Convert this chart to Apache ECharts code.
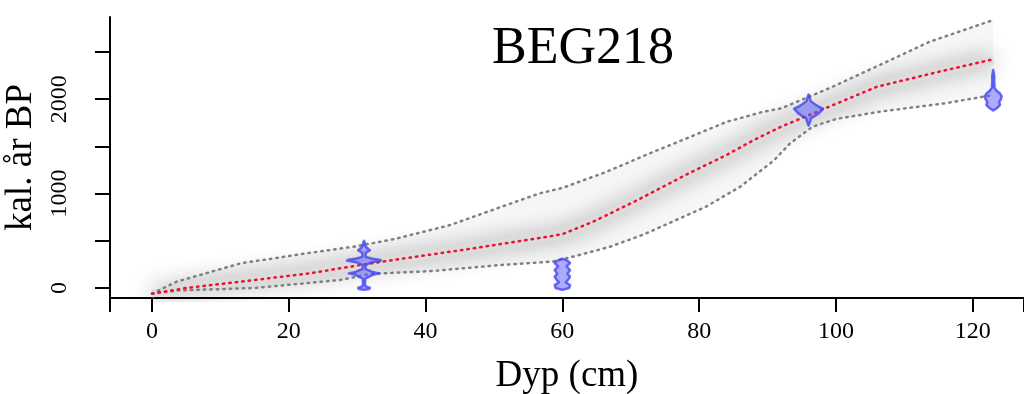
<!DOCTYPE html>
<html>
<head>
<meta charset="utf-8">
<script src="https://cdn.jsdelivr.net/npm/echarts@6/dist/echarts.min.js"></script>
<style>
  html, body { margin: 0; padding: 0; background: #fff; }
  #chart { width: 1024px; height: 394px; }
</style>
</head>
<body>
<div id="chart"></div>
<script>
// axis ticks and extents
const xTicks = [0, 20, 40, 60, 80, 100, 120];
const yTicks = [0, 500, 1000, 1500, 2000, 2500];
const yLabels = [0, 1000, 2000];
const xMin = -6.14, xMax = 127.5;
const yMin = -106, yMax = 2871;

// age-depth model: mean (red) and 95% range (grey dotted)
const meanDepth = [0, 5, 13, 23, 31, 36, 47, 57, 60, 64.5, 71, 78, 84, 88, 92, 97, 106, 115, 123];
const meanAge = [-60, 0, 67, 155, 250, 304, 420, 533, 570, 702, 932, 1197, 1409, 1568, 1709, 1860, 2132, 2290, 2423];
const upperDepth = [0, 3.6, 13, 22.6, 29.4, 35.3, 43.6, 51, 56.7, 60, 66.5, 72.8, 77.6, 84, 89, 92, 99, 106.4, 113.7, 123];
const upperAge = [-60, 67, 262, 367, 437, 516, 667, 858, 1003, 1060, 1232, 1427, 1568, 1760, 1860, 1903, 2115, 2362, 2609, 2839];
const lowerDepth = [0, 4, 15, 27.5, 32, 41, 51, 58.6, 62, 67, 72, 81, 86, 91, 93.3, 96.6, 100, 106.4, 116, 123];
const lowerAge = [-60, -25, 0, 85, 150, 180, 244, 280, 340, 438, 570, 861, 1073, 1356, 1533, 1709, 1790, 1868, 1957, 2045];

// calibrated dates (blue): depth, age grid, relative probability
const dateDepth = [31, 60, 96, 123];
const dateAges = [
  [-20, -10, 0, 20, 60, 100, 140, 155, 170, 200, 240, 270, 290, 300, 310, 330, 370, 400, 420, 450, 480, 500],
  [-20, 0, 30, 60, 90, 120, 150, 190, 230, 265, 290, 310],
  [1720, 1760, 1800, 1820, 1850, 1880, 1900, 1920, 1950, 1980, 2010, 2050],
  [1880, 1910, 1940, 1970, 2000, 2030, 2060, 2090, 2120, 2180, 2250, 2310]
];
const dateProb = [
  [0, 0.3, 0.35, 0.08, 0.06, 0.08, 0.5, 0.9, 0.5, 0.1, 0.08, 0.4, 1.0, 0.9, 0.5, 0.1, 0.1, 0.35, 0.2, 0.06, 0.05, 0],
  [0, 0.4, 0.45, 0.2, 0.35, 0.45, 0.3, 0.45, 0.25, 0.45, 0.3, 0],
  [0, 0.08, 0.15, 0.35, 0.6, 0.75, 0.85, 0.6, 0.35, 0.12, 0.08, 0],
  [0, 0.25, 0.4, 0.35, 0.45, 0.5, 0.4, 0.2, 0.08, 0.06, 0.06, 0]
];

const serif = 'Liberation Serif';
const chart = echarts.init(document.getElementById('chart'));

const pairs = (xs, ys) => xs.map((x, i) => [x, ys[i]]);

const option = {
  animation: false,
  title: {
    text: 'BEG218',
    left: 487,
    top: 18,
    textStyle: { fontFamily: serif, fontSize: 52, fontWeight: 'normal', color: '#000' }
  },
  grid: { left: 110, right: 0, top: 17, bottom: 96, containLabel: false, outerBoundsMode: 'none' },
  xAxis: {
    type: 'value',
    min: xMin,
    max: xMax,
    splitNumber: 7,
    name: 'Dyp (cm)',
    nameLocation: 'middle',
    nameGap: 60,
    nameTextStyle: { fontFamily: serif, fontSize: 37, color: '#000' },
    axisLine: { show: true, onZero: false, lineStyle: { color: '#000', width: 2 } },
    axisTick: { show: true, inside: false, length: 14, lineStyle: { color: '#000', width: 2 } },
    axisLabel: { customValues: xTicks, margin: 22, fontFamily: serif, fontSize: 24, color: '#000' },
    splitLine: { show: false }
  },
  yAxis: {
    type: 'value',
    min: yMin,
    max: yMax,
    name: 'kal. år BP',
    nameLocation: 'middle',
    nameRotate: 90,
    nameGap: 62,
    nameTextStyle: { fontFamily: serif, fontSize: 37, color: '#000' },
    axisLine: { show: true, onZero: false, lineStyle: { color: '#000', width: 2 } },
    axisTick: { show: true, customValues: yTicks, length: 15, lineStyle: { color: '#000', width: 2 } },
    axisLabel: {
      customValues: yLabels, rotate: 90, margin: 38,
      formatter: v => String(v),
      fontFamily: serif, fontSize: 24, color: '#000'
    },
    splitLine: { show: false }
  },
  series: [
    {
      // 95% envelope, light grey
      type: 'custom',
      silent: true,
      z: 1,
      data: [[0, 0]],
      renderItem: function (params, api) {
        const pts = [];
        upperDepth.forEach((d, i) => pts.push(api.coord([d, upperAge[i]])));
        for (let i = lowerDepth.length - 1; i >= 0; i--) pts.push(api.coord([lowerDepth[i], lowerAge[i]]));
        return {
          type: 'polygon',
          shape: { points: pts },
          style: { fill: 'rgba(0,0,0,0.035)' }
        };
      }
    },
    {
      // dark core around the mean
      type: 'line',
      silent: true,
      z: 2,
      data: pairs(meanDepth, meanAge),
      showSymbol: false,
      lineStyle: { color: '#dcdcdc', width: 8, shadowBlur: 22, shadowColor: 'rgba(0,0,0,0.45)' }
    },
    {
      name: 'upper',
      type: 'line',
      silent: true,
      z: 3,
      data: pairs(upperDepth, upperAge),
      showSymbol: false,
      lineStyle: { color: '#808080', width: 2.5, type: [1.5, 5], cap: 'round' }
    },
    {
      name: 'lower',
      type: 'line',
      silent: true,
      z: 3,
      data: pairs(lowerDepth, lowerAge),
      showSymbol: false,
      lineStyle: { color: '#808080', width: 2.5, type: [1.5, 5], cap: 'round' }
    },
    {
      name: 'mean',
      type: 'line',
      silent: true,
      z: 4,
      data: pairs(meanDepth, meanAge),
      showSymbol: false,
      lineStyle: { color: '#ee1133', width: 2.5, type: [1.5, 5], cap: 'round' }
    },
    {
      name: 'dates',
      type: 'custom',
      silent: true,
      z: 5,
      data: dateDepth.map((d, i) => [d, dateAges[i][0]]),
      renderItem: function (params, api) {
        const i = params.dataIndex;
        const ages = dateAges[i];
        const prob = dateProb[i];
        const right = [], left = [];
        ages.forEach((a, j) => {
          const p = api.coord([dateDepth[i], a]);
          const w = prob[j] * 17;
          right.push([p[0] + w, p[1]]);
          left.unshift([p[0] - w, p[1]]);
        });
        return {
          type: 'polygon',
          shape: { points: right.concat(left) },
          style: { fill: 'rgba(90,90,255,0.5)', stroke: 'rgba(70,70,240,0.8)', lineWidth: 2.5, lineJoin: 'round' }
        };
      }
    }
  ]
};

chart.setOption(option);
</script>
</body>
</html>
